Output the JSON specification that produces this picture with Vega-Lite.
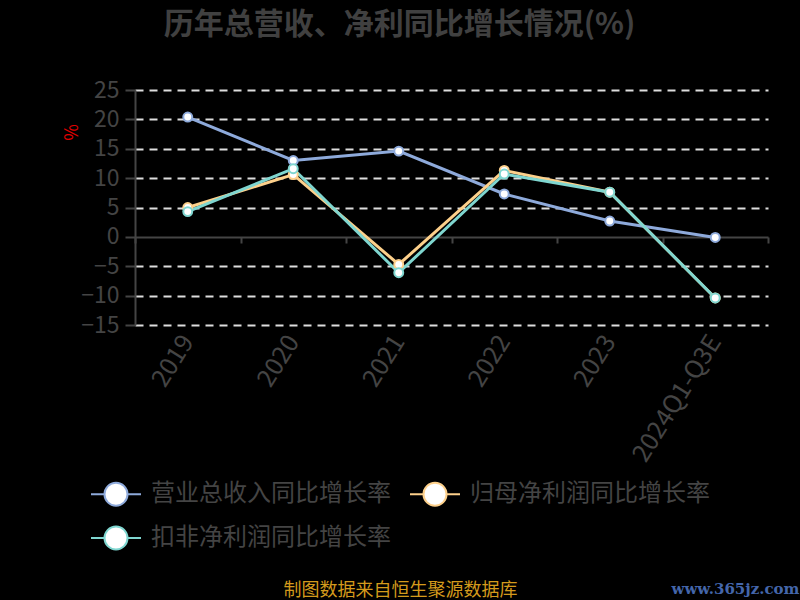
{
  "$schema": "https://vega.github.io/schema/vega-lite/v6.json",
  "autosize": "none",
  "width": 633,
  "height": 235,
  "padding": {"left": 135, "top": 90, "right": 32, "bottom": 275},
  "background": "#000000",
  "config": {
    "view": {"stroke": null},
    "font": "Noto Sans CJK SC"
  },
  "title": {
    "text": "历年总营收、净利同比增长情况(%)",
    "fontSize": 30,
    "fontWeight": "bold",
    "color": "#404040",
    "anchor": "middle",
    "frame": "group",
    "baseline": "bottom",
    "offset": 9,
    "dx": -52
  },
  "data": {
    "values": [
      {"year": "2019", "series": "营业总收入同比增长率", "value": 20.4},
      {"year": "2020", "series": "营业总收入同比增长率", "value": 13.0},
      {"year": "2021", "series": "营业总收入同比增长率", "value": 14.6},
      {"year": "2022", "series": "营业总收入同比增长率", "value": 7.3},
      {"year": "2023", "series": "营业总收入同比增长率", "value": 2.7},
      {"year": "2024Q1-Q3E", "series": "营业总收入同比增长率", "value": -0.1},
      {"year": "2019", "series": "归母净利润同比增长率", "value": 5.0},
      {"year": "2020", "series": "归母净利润同比增长率", "value": 10.6},
      {"year": "2021", "series": "归母净利润同比增长率", "value": -4.7},
      {"year": "2022", "series": "归母净利润同比增长率", "value": 11.3},
      {"year": "2023", "series": "归母净利润同比增长率", "value": 7.6},
      {"year": "2024Q1-Q3E", "series": "归母净利润同比增长率", "value": -10.4},
      {"year": "2019", "series": "扣非净利润同比增长率", "value": 4.3},
      {"year": "2020", "series": "扣非净利润同比增长率", "value": 11.6},
      {"year": "2021", "series": "扣非净利润同比增长率", "value": -6.1},
      {"year": "2022", "series": "扣非净利润同比增长率", "value": 10.7},
      {"year": "2023", "series": "扣非净利润同比增长率", "value": 7.6},
      {"year": "2024Q1-Q3E", "series": "扣非净利润同比增长率", "value": -10.4}
    ]
  },
  "encoding": {
    "y": {
      "field": "value",
      "type": "quantitative",
      "scale": {"domain": [-15, 25], "nice": false, "zero": false},
      "axis": {
        "title": "%",
        "titleColor": "#e00000",
        "titleFontSize": 18,
        "titleFontWeight": "normal",
        "titleX": -63,
        "titleY": 42,
        "titleAngle": -90,
        "titleAlign": "center",
        "titleBaseline": "middle",
        "values": [-15, -10, -5, 0, 5, 10, 15, 20, 25],
        "labelFontSize": 23,
        "labelColor": "#444444",
        "labelPadding": 6,
        "domainColor": "#444444",
        "domainWidth": 2,
        "tickColor": "#444444",
        "tickWidth": 2,
        "tickSize": 10,
        "grid": true,
        "gridColor": {"condition": {"test": "datum.value === 0", "value": "transparent"}, "value": "#dddddd"},
        "gridDash": [8, 6],
        "gridWidth": 2
      }
    },
    "color": {
      "field": "series",
      "type": "nominal",
      "sort": ["营业总收入同比增长率", "归母净利润同比增长率", "扣非净利润同比增长率"],
      "scale": {
        "domain": ["营业总收入同比增长率", "归母净利润同比增长率", "扣非净利润同比增长率"],
        "range": ["#8eaadb", "#fdd08b", "#7fd6d0"]
      },
      "legend": {
        "title": null,
        "orient": "none",
        "legendX": -45,
        "legendY": 378,
        "direction": "horizontal",
        "columns": 2,
        "columnPadding": 15,
        "rowPadding": 2,
        "symbolType": "M-1,0L-0.46,0M0.46,0L1,0M0.46,0A0.46,0.46,0,1,1,-0.46,0A0.46,0.46,0,1,1,0.46,0Z",
        "symbolSize": 2500,
        "symbolFillColor": "#ffffff",
        "symbolStrokeWidth": 2,
        "symbolOpacity": 1,
        "labelFontSize": 24,
        "labelColor": "#444444",
        "labelOffset": 9,
        "labelLimit": 400
      }
    }
  },
  "resolve": {"axis": {"x": "independent"}},
  "layer": [
    {
      "mark": {"type": "line", "strokeWidth": 3},
      "encoding": {
        "x": {
          "field": "year",
          "type": "nominal",
          "sort": null,
          "bandPosition": 0.5,
          "scale": {"type": "band", "paddingInner": 0, "paddingOuter": 0},
          "axis": {
            "title": "制图数据来自恒生聚源数据库",
            "titleColor": "#d49a1c",
            "titleFontSize": 18,
            "titleFontWeight": "normal",
            "titleX": 265,
            "titleY": 265,
            "titleAlign": "center",
            "titleBaseline": "middle",
            "labelAngle": -58,
            "labelFontSize": 25,
            "labelColor": "#444444",
            "labelPadding": 12,
            "domain": false,
            "ticks": false,
            "grid": false
          }
        }
      }
    },
    {
      "mark": {"type": "point", "filled": false, "fill": "#ffffff", "fillOpacity": 1, "opacity": 1, "size": 80, "strokeWidth": 2},
      "encoding": {
        "x": {
          "field": "year",
          "type": "nominal",
          "sort": null,
          "bandPosition": 0.5,
          "scale": {"type": "band", "paddingInner": 0, "paddingOuter": 0},
          "axis": {
            "orient": "bottom",
            "offset": -88,
            "title": "www.365jz.com",
            "titleColor": "#4466aa",
            "titleFont": "DejaVu Serif",
            "titleFontSize": 15,
            "titleFontWeight": "bold",
            "titleX": 600,
            "titleY": 351,
            "titleAlign": "center",
            "titleBaseline": "middle",
            "labels": false,
            "domain": true,
            "domainColor": "#444444",
            "domainWidth": 2,
            "ticks": true,
            "tickBand": "extent",
            "tickColor": "#444444",
            "tickWidth": 2,
            "tickSize": 6,
            "grid": false
          }
        }
      }
    }
  ]
}
